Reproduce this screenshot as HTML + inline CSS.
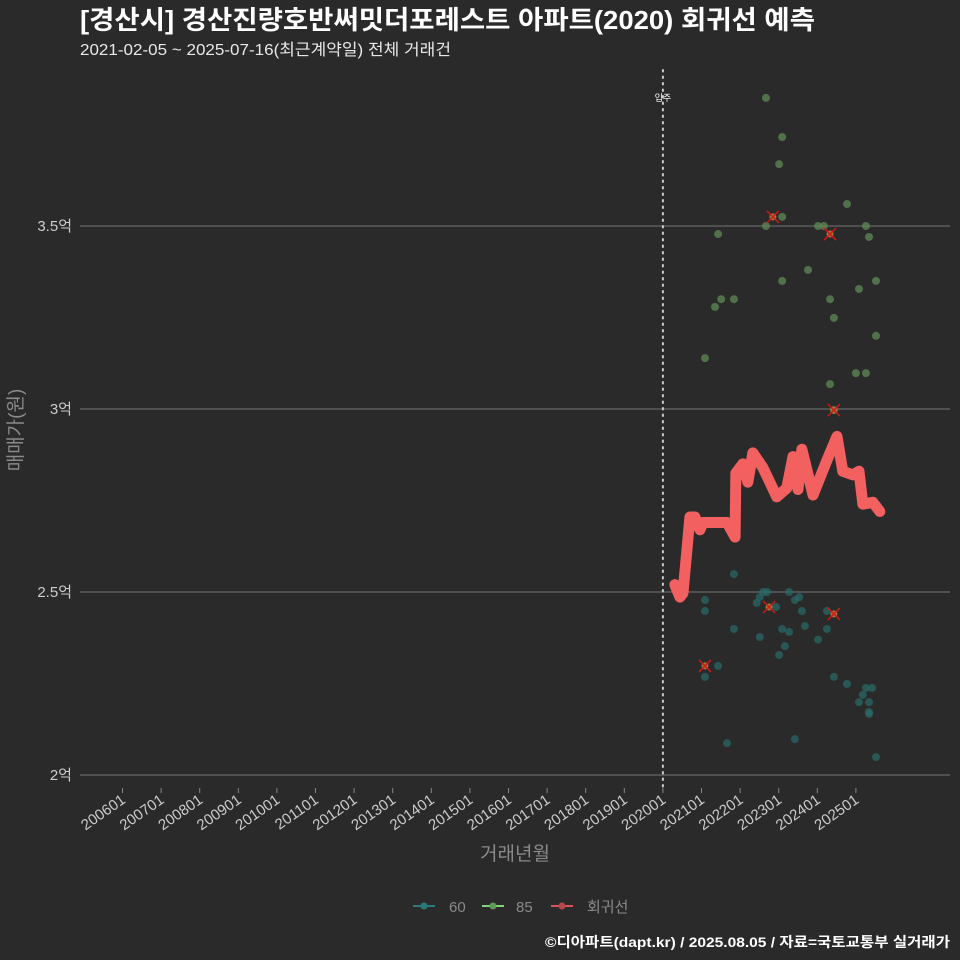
<!DOCTYPE html>
<html><head><meta charset="utf-8"><style>
html,body{margin:0;padding:0;background:#2a2a2a;}
svg{display:block;font-family:"Liberation Sans","Noto Sans CJK KR",sans-serif;}
</style></head><body>
<svg id="chart" width="960" height="960" viewBox="0 0 960 960" xmlns="http://www.w3.org/2000/svg">
<rect width="960" height="960" fill="#2a2a2a"/>
<text x="80" y="29" fill="#ffffff" font-size="26" font-weight="bold" textLength="735" lengthAdjust="spacingAndGlyphs">[경산시] 경산진량호반써밋더포레스트 아파트(2020) 회귀선 예측</text>
<text x="80" y="55" fill="#e8e8e8" font-size="16" textLength="371" lengthAdjust="spacingAndGlyphs">2021-02-05 ~ 2025-07-16(최근계약일) 전체 거래건</text>
<g id="grid"></g>
<g id="marks"></g>
<text transform="translate(22,430) rotate(-90)" text-anchor="middle" fill="#8a8a8a" font-size="19">매매가(원)</text>
<text x="515" y="860" text-anchor="middle" fill="#8a8a8a" font-size="19">거래년월</text>
<g>
<g><line x1="413" y1="906" x2="435" y2="906" stroke="#2a7a78" stroke-width="2"/><circle cx="424" cy="906" r="3.5" fill="#2a7a78"/><text x="449" y="912" fill="#8a8a8a" font-size="15">60</text></g>
<g><line x1="482" y1="906" x2="504" y2="906" stroke="#7fd67a" stroke-width="2"/><circle cx="493" cy="906" r="3.5" fill="#5d9a55"/><text x="516" y="912" fill="#8a8a8a" font-size="15">85</text></g>
<g><line x1="551" y1="906" x2="573" y2="906" stroke="#d9535a" stroke-width="2"/><circle cx="562" cy="906" r="3.5" fill="#b5464c"/><text x="587" y="912" fill="#8a8a8a" font-size="15">회귀선</text></g>
</g>
<text x="950" y="947" text-anchor="end" fill="#ffffff" font-size="14" font-weight="bold" textLength="405" lengthAdjust="spacingAndGlyphs">©디아파트(dapt.kr) / 2025.08.05 / 자료=국토교통부 실거래가</text>
</svg>
<script>
const yTicks=[2,2.5,3,3.5];
const yTickLabels=["2억","2.5억","3억","3.5억"];
const xTickYears=[2006,2007,2008,2009,2010,2011,2012,2013,2014,2015,2016,2017,2018,2019,2020,2021,2022,2023,2024,2025];
const xTickLabels=["200601","200701","200801","200901","201001","201101","201201","201301","201401","201501","201601","201701","201801","201901","202001","202101","202201","202301","202401","202501"];
const moveInYear=2020;
const s85Dates=[2022.67,2023.09,2023.01,2024.77,2023.09,2022.67,2024.02,2024.17,2025.26,2021.43,2025.34,2023.76,2023.09,2025.52,2025.08,2021.51,2021.84,2024.33,2021.35,2024.43,2025.52,2021.09,2025.00,2025.26,2024.33,2024.43];
const s85Prices=[3.85,3.743,3.669,3.56,3.525,3.50,3.50,3.50,3.50,3.478,3.47,3.38,3.35,3.35,3.328,3.30,3.30,3.30,3.279,3.249,3.20,3.139,3.098,3.098,3.068,2.997];
const s60Dates=[2021.84,2021.09,2021.09,2021.84,2022.43,2022.51,2022.60,2022.70,2022.93,2023.27,2023.42,2023.53,2023.60,2023.68,2022.51,2023.09,2023.27,2023.16,2023.01,2024.02,2024.25,2024.25,2021.43,2021.09,2024.43,2024.77,2025.26,2025.42,2025.18,2025.08,2025.34,2025.34,2025.34,2021.66,2023.42,2025.52];
const s60Prices=[2.549,2.478,2.448,2.399,2.47,2.486,2.50,2.50,2.459,2.50,2.478,2.486,2.448,2.407,2.377,2.399,2.391,2.352,2.328,2.37,2.448,2.399,2.298,2.268,2.268,2.249,2.238,2.238,2.219,2.199,2.199,2.172,2.167,2.087,2.098,2.049];
const xMarkDates=[2022.85,2024.33,2024.43,2022.75,2024.43,2021.09];
const xMarkPrices=[3.525,3.478,2.997,2.459,2.44,2.298];
const regDates=[2020.31,2020.44,2020.52,2020.70,2020.83,2020.96,2021.04,2021.66,2021.87,2021.89,2022.07,2022.20,2022.33,2022.59,2022.95,2023.21,2023.37,2023.50,2023.60,2023.89,2024.25,2024.51,2024.66,2024.92,2025.08,2025.18,2025.44,2025.62];
const regPrices=[2.52,2.486,2.497,2.705,2.705,2.67,2.69,2.69,2.65,2.825,2.85,2.80,2.88,2.84,2.76,2.784,2.87,2.78,2.89,2.765,2.86,2.925,2.83,2.82,2.83,2.74,2.745,2.72];

const NS="http://www.w3.org/2000/svg";
const plotL=80,plotR=950;
function xS(yr){return 122.5+(yr-2006)*38.6;}
function yS(v){return 775-(v-2)*366;}
function mk(tag,attrs,parent){const e=document.createElementNS(NS,tag);for(const k in attrs)e.setAttribute(k,attrs[k]);parent.appendChild(e);return e;}
const grid=document.getElementById('grid'),marks=document.getElementById('marks');
yTicks.forEach((v,i)=>{
 const l=mk('line',{x1:plotL,x2:plotR,y1:yS(v),y2:yS(v),stroke:'#777777','stroke-width':1},grid);
 
 
 const t=mk('text',{x:72,y:yS(v)+5,'text-anchor':'end',fill:'#cccccc','font-size':15},grid);
 t.textContent=yTickLabels[i];
 
 
});
xTickYears.forEach((yr,i)=>{
 const x=xS(yr);
 const tk=mk('line',{x1:x,x2:x,y1:788,y2:793,stroke:'#888','stroke-width':1},grid);
 
 
 const t=mk('text',{transform:`translate(${x+4},${802}) rotate(-35)`,'text-anchor':'end',fill:'#cccccc','font-size':15},grid);
 t.textContent=xTickLabels[i];
 
 
});
const mv=mk('line',{x1:xS(moveInYear),x2:xS(moveInYear),y1:70,y2:787,stroke:'#cccccc','stroke-width':2,'stroke-dasharray':'1.5 5','stroke-linecap':'round'},grid);


const mvt=mk('text',{x:xS(moveInYear),y:101,'text-anchor':'middle',fill:'#ffffff','font-size':9},grid);
mvt.textContent='입주';


s60Dates.forEach((d,i)=>{
 const c=mk('circle',{cx:xS(d),cy:yS(s60Prices[i]),r:4,fill:'#2a6b68','fill-opacity':0.7},marks);
 
 
});
s85Dates.forEach((d,i)=>{
 const c=mk('circle',{cx:xS(d),cy:yS(s85Prices[i]),r:4,fill:'#5e8a55','fill-opacity':0.75},marks);
 
 
});
xMarkDates.forEach((d,i)=>{
 const x=xS(d),y=yS(xMarkPrices[i]);
 const g=mk('g',{},marks);
 
 
 mk('circle',{cx:x,cy:y,r:3.5,fill:'#a07a3a'},g);
 mk('path',{d:`M${x-6} ${y-6}L${x+6} ${y+6}M${x+6} ${y-6}L${x-6} ${y+6}`,stroke:'#d01818','stroke-width':1.5},g);
});
const pts=regDates.map((d,i)=>xS(d)+','+yS(regPrices[i])).join(' ');
const pl=mk('polyline',{points:pts,fill:'none',stroke:'#f26060','stroke-width':11,'stroke-linejoin':'round','stroke-linecap':'round'},marks);


</script>
</body></html>
